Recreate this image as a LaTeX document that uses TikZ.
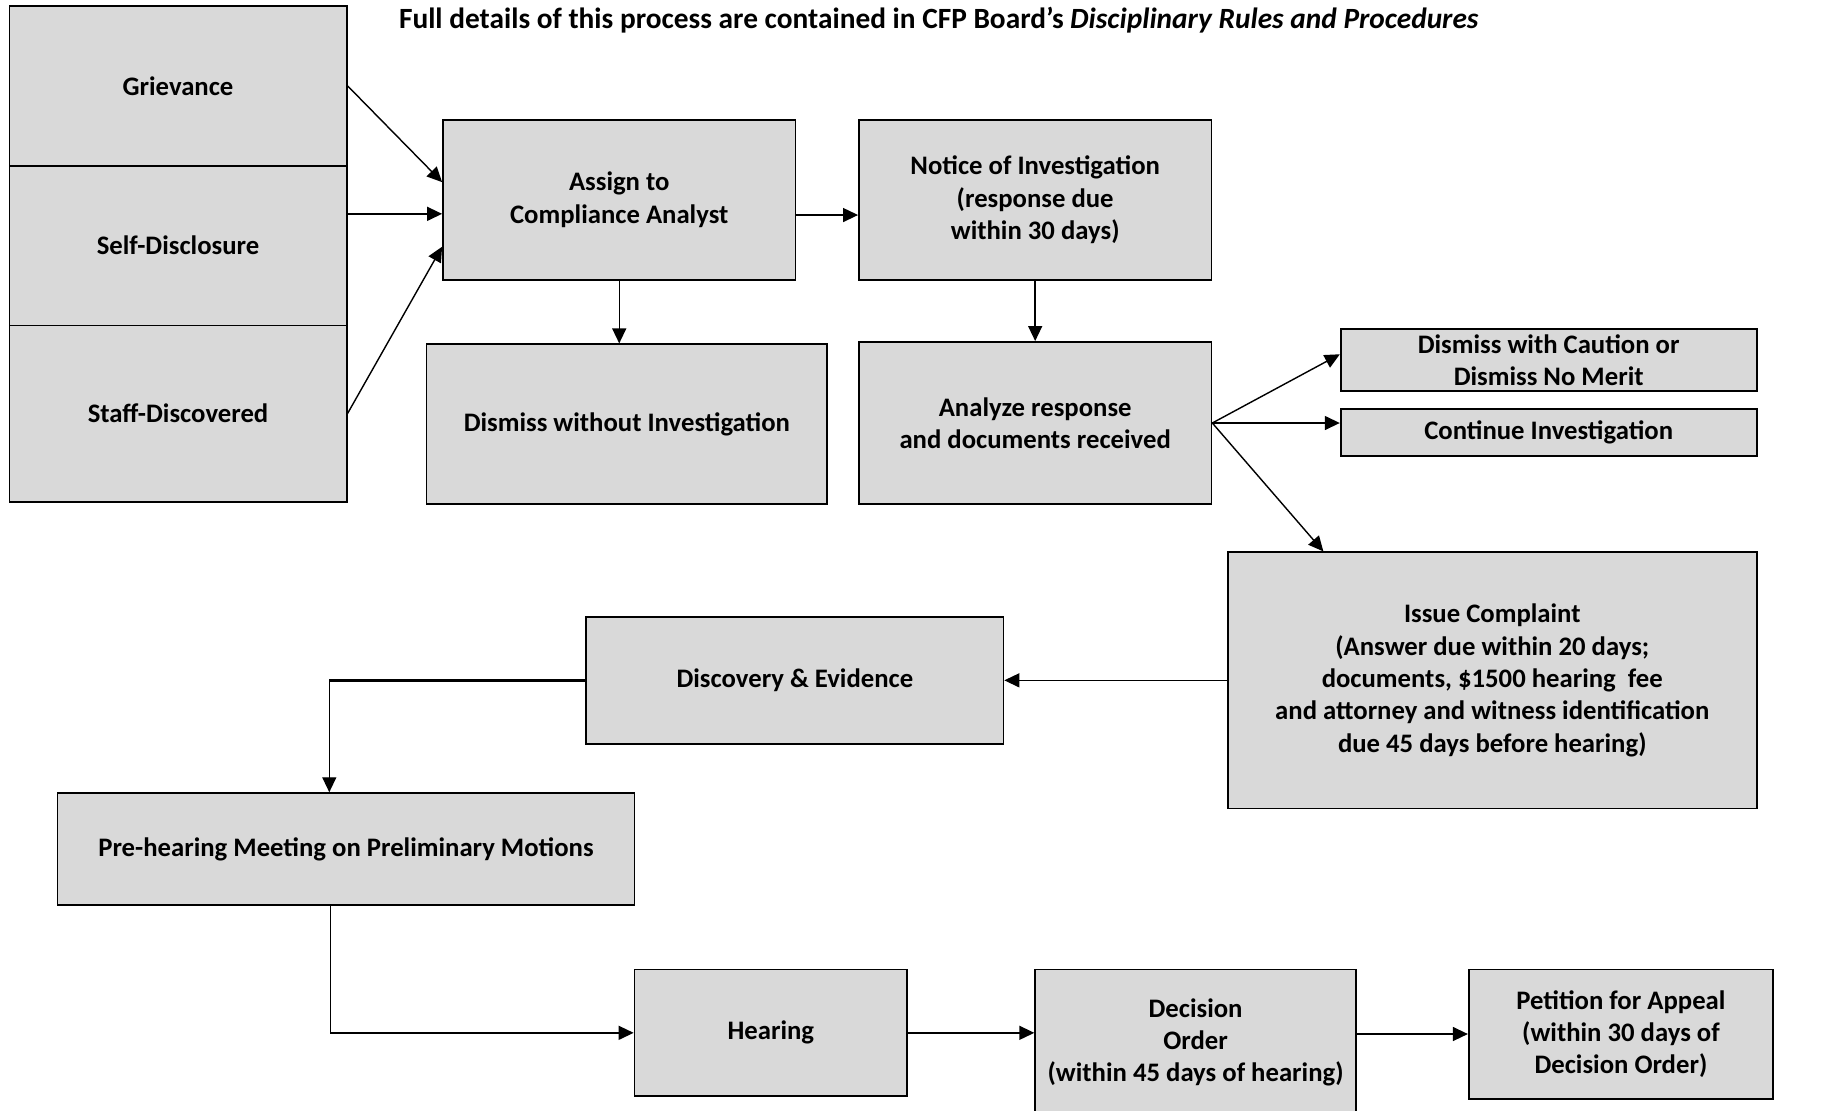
\documentclass[tikz,border=0pt]{standalone}
\usepackage{fontspec}
\setmainfont{Carlito}
\usetikzlibrary{arrows.meta,calc}
\definecolor{boxgray}{HTML}{D9D9D9}
\newlength{\unitpx}
\setlength{\unitpx}{0.1175mm}
\tikzset{
  block/.style={draw, fill=boxgray, line width=0.5pt, inner sep=0pt, align=center,
    font=\fontsize{7.6}{9.2}\selectfont\bfseries},
  blocksize/.style 2 args={minimum width=#1\unitpx, minimum height=#2\unitpx},
  arr/.style={-{Triangle[length=1.5mm,width=1.4mm]}, line width=0.4pt}
}
\begin{document}
\begin{tikzpicture}[x=0.1175mm,y=-0.1175mm]
        \fill[white] (0,0) rectangle (1565.1,945.5);
        \useasboundingbox (0,0) rectangle (1565.1,945.5);
        \node[anchor=west, inner sep=0pt, font=\fontsize{8.35}{10}\selectfont\bfseries] (title) at (339,17)
            {Full details of this process are contained in CFP Board’s \textit{Disciplinary Rules and Procedures}};
        % sources
        \node[block, blocksize={287}{136}] (griev) at (151.5,73) {Grievance};
        \node[block, blocksize={287}{136}] (self) at (151.5,209) {Self-Disclosure};
        \node[block, blocksize={287}{150}] (staff) at (151.5,352) {Staff-Discovered};
        % investigation
        \node[block, blocksize={300}{136}] (assign) at (527,170) {Assign to\\ Compliance Analyst};
        \node[block, blocksize={300}{136}] (notice) at (881,170) {Notice of Investigation\\(response due\\within 30 days)};
        \node[block, blocksize={341}{136}] (dismiss) at (533.5,361) {Dismiss without Investigation};
        \node[block, blocksize={300}{138}] (analyze) at (881,360) {Analyze response\\and documents received};
        \node[block, blocksize={354}{53}] (caution) at (1318,306.5) {Dismiss with Caution or\\Dismiss No Merit};
        \node[block, blocksize={354}{40}] (cont) at (1318,368) {Continue Investigation};
        \node[block, blocksize={450}{218}] (complaint) at (1270,579)
            {Issue Complaint\\(Answer due within 20 days;\\documents, \$1500 hearing\ \ fee\\and attorney and witness identification\\due 45 days before hearing)};
        % hearing
        \node[block, blocksize={355}{108}] (discovery) at (676.5,579) {Discovery \& Evidence};
        \node[block, blocksize={491}{95}] (prehear) at (294.5,722.5) {Pre-hearing Meeting on Preliminary Motions};
        \node[block, blocksize={232}{108}] (hearing) at (656,879) {Hearing};
        \node[block, blocksize={273}{124}] (decision) at (1017.5,887) {Decision\\Order\\(within 45 days of hearing)};
        \node[block, blocksize={259}{110}] (petition) at (1379.5,880) {Petition for Appeal\\(within 30 days of\\Decision Order)};
        % connectors
        \draw[arr] (griev.east) -- ($(assign.west)+(0,-15)$);
        \draw[arr] ($(self.east)+(0,-27)$) -- ($(assign.west)+(0,12)$);
        \draw[arr] (staff.east) -- ($(assign.west)+(0,40)$);
        \draw[arr] ($(assign.east)+(0,13)$) -- ($(notice.west)+(0,13)$);
        \draw[arr] (assign.south) -- (assign.south |- dismiss.north);
        \draw[arr] (notice.south) -- (analyze.north);
        \draw[arr] (analyze.east) -- ($(caution.west)+(0,-5)$);
        \draw[arr] (analyze.east) -- (cont.west |- analyze.east);
        \draw[arr] (analyze.east) -- ($(complaint.north west)+(82,0)$);
        \draw[arr] (complaint.west) -- (discovery.east);
        \coordinate (dp) at ($(prehear.north west)+(232,0)$);
        \draw[line width=0.8pt] (discovery.west) -- (dp |- discovery.west);
        \draw[arr] (dp |- discovery.west) -- (dp);
        \coordinate (ph) at ($(prehear.south west)+(233,0)$);
        \draw[arr] (ph) |- (hearing.west);
        \draw[arr] (hearing.east) -- (hearing.east -| decision.west);
        \draw[arr] (decision.east |- petition.west) -- (petition.west);
    \end{tikzpicture}
\end{document}
